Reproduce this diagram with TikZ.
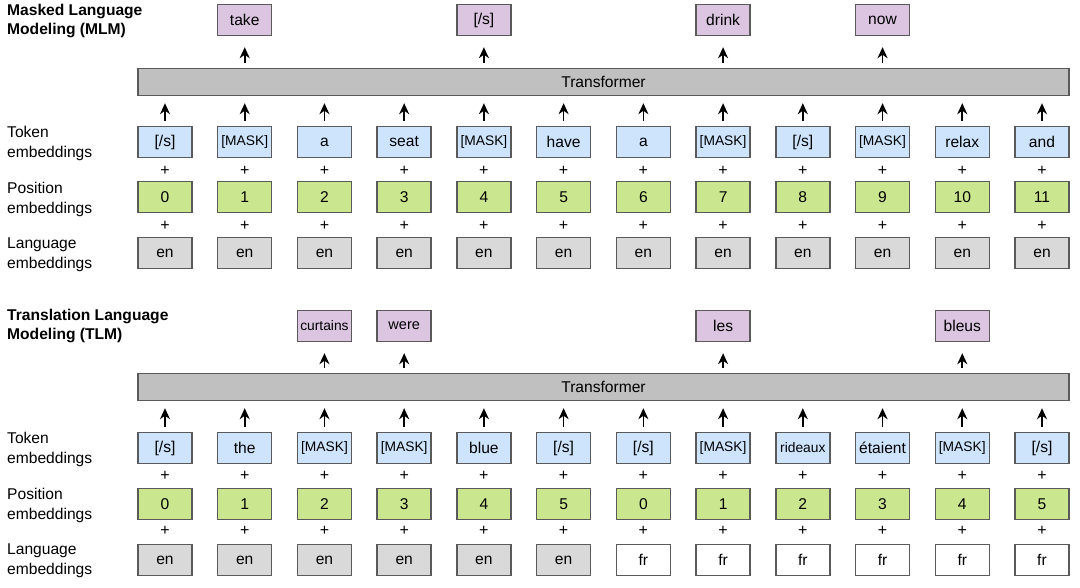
\documentclass[tikz,border=0pt]{standalone}
\usepackage{fontspec}
\setmainfont{Liberation Sans}
\usetikzlibrary{arrows.meta}
\definecolor{tokblue}{RGB}{205,228,252}
\definecolor{posgreen}{RGB}{202,230,142}
\definecolor{langgrey}{RGB}{217,217,217}
\definecolor{outpurple}{RGB}{219,197,225}
\definecolor{trgrey}{RGB}{192,192,192}
\definecolor{edgecol}{RGB}{90,90,90}
\newcommand\maskw{{\fontsize{13.8}{13.8}\selectfont [MASK]}}
\newcommand\eosw{[/s]}
\newcommand\smallw[1]{{\fontsize{13.8}{13.8}\selectfont #1}}
\tikzset{
  embbox/.style={draw=edgecol, line width=1.4pt, minimum width=54pt, minimum height=31pt, inner sep=0pt, font=\fontsize{15.6}{15.6}\selectfont},
  tokbox/.style={embbox, fill=tokblue},
  posbox/.style={embbox, fill=posgreen},
  langbox/.style={embbox, fill=langgrey},
  langfrbox/.style={embbox, fill=white},
  outbox/.style={embbox, fill=outpurple},
  barbox/.style={draw=edgecol, line width=1.4pt, fill=trgrey, minimum height=27pt, inner sep=0pt, font=\fontsize{15.6}{15.6}\selectfont},
  uparrow/.style={-{Stealth[length=11pt,width=10pt,inset=3.5pt]}, line width=1.7pt, black},
  plussign/.style={font=\fontsize{16}{16}\selectfont, inner sep=0pt},
  rowlabel/.style={anchor=west, align=left, font=\fontsize{15.6}{20}\selectfont, inner sep=0pt},
  titlelabel/.style={anchor=west, align=left, font=\bfseries\fontsize{15.6}{19}\selectfont, inner sep=0pt}
}
\begin{document}
\begin{tikzpicture}[x=1pt,y=-1pt]
\useasboundingbox (0,0) rectangle (1080,587);
% ---------------- MLM ----------------
\node[titlelabel] (t1) at (7,20.5) {Masked Language\\Modeling (MLM)};
\node[rowlabel] (l1) at (7,143) {Token\\embeddings};
\node[rowlabel] (l2) at (7,199) {Position\\embeddings};
\node[rowlabel] (l3) at (7,255) {Language\\embeddings};
\node[barbox, minimum width=931pt] (tr1) at (603.5,82) {Transformer};
\foreach \w [count=\i from 0] in {\eosw,\maskw,a,seat,\maskw,have,a,\maskw,\eosw,\maskw,relax,and} {
  \pgfmathsetmacro{\cx}{165+79.727*\i}
  \node[tokbox] (mt\i) at (\cx,142) {\w};
  \node[plussign] (mp\i) at (\cx,171) {+};
  \node[posbox] (mpos\i) at (\cx,197) {\i};
  \node[plussign] (mq\i) at (\cx,226) {+};
  \node[langbox] (ml\i) at (\cx,253) {en};
  \draw[uparrow, shorten <=5pt, shorten >=7pt] (mt\i.north) -- (mt\i.north |- tr1.south);
}
\node[outbox] (mo1) at (mt1 |- 0,20) {take};
\node[outbox] (mo4) at (mt4 |- 0,20) {[/s]};
\node[outbox] (mo7) at (mt7 |- 0,20) {drink};
\node[outbox] (mo9) at (mt9 |- 0,20) {now};
\foreach \i in {1,4,7,9} {
  \draw[uparrow, shorten <=5pt, shorten >=11pt] (mo\i.south |- tr1.north) -- (mo\i.south);
}
% ---------------- TLM ----------------
\node[titlelabel] (t2) at (7,326) {Translation Language\\Modeling (TLM)};
\node[rowlabel] (l4) at (7,449) {Token\\embeddings};
\node[rowlabel] (l5) at (7,505) {Position\\embeddings};
\node[rowlabel] (l6) at (7,561) {Language\\embeddings};
\node[barbox, minimum width=931pt] (tr2) at (603.5,387) {Transformer};
\foreach \w/\p/\st/\lg [count=\i from 0] in {\eosw/0/langbox/en,the/1/langbox/en,\maskw/2/langbox/en,\maskw/3/langbox/en,blue/4/langbox/en,\eosw/5/langbox/en,\eosw/0/langfrbox/fr,\maskw/1/langfrbox/fr,\smallw{rideaux}/2/langfrbox/fr,étaient/3/langfrbox/fr,\maskw/4/langfrbox/fr,\eosw/5/langfrbox/fr} {
  \pgfmathsetmacro{\cx}{165+79.727*\i}
  \node[tokbox] (tt\i) at (\cx,448) {\w};
  \node[plussign] (tp\i) at (\cx,476) {+};
  \node[posbox] (tpos\i) at (\cx,504) {\p};
  \node[plussign] (tq\i) at (\cx,531) {+};
  \node[\st] (tl\i) at (\cx,560) {\lg};
  \draw[uparrow, shorten <=5pt, shorten >=7pt] (tt\i.north) -- (tt\i.north |- tr2.south);
}
\node[outbox, font=\fontsize{13.8}{13.8}\selectfont] (to2) at (tt2 |- 0,326) {curtains};
\node[outbox, font=\fontsize{14.5}{14.5}\selectfont] (to3) at (tt3 |- 0,326) {were};
\node[outbox] (to7) at (tt7 |- 0,326) {les};
\node[outbox] (to10) at (tt10 |- 0,326) {bleus};
\foreach \i in {2,3,7,10} {
  \draw[uparrow, shorten <=5pt, shorten >=11pt] (to\i.south |- tr2.north) -- (to\i.south);
}
\end{tikzpicture}
\end{document}
